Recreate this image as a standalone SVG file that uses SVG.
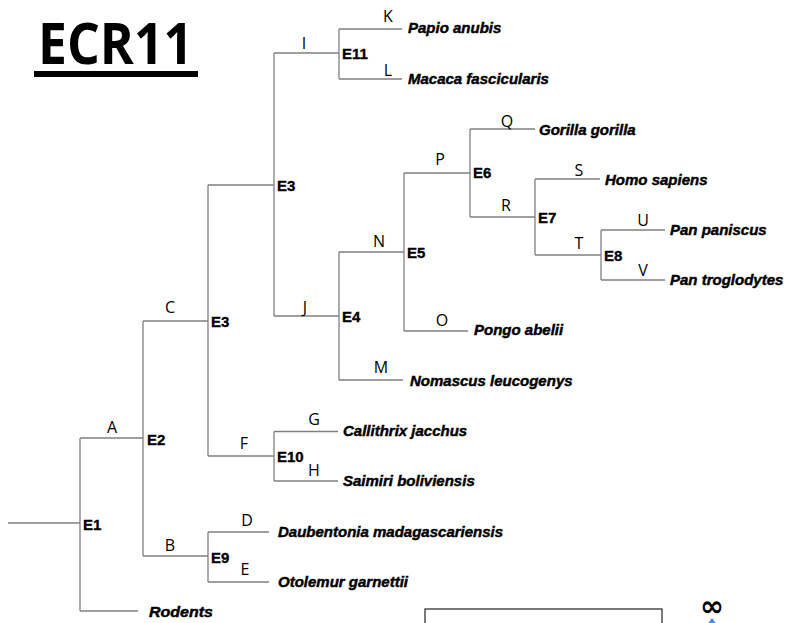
<svg xmlns="http://www.w3.org/2000/svg" width="786" height="623" viewBox="0 0 786 623">
<style>
.ln{fill:none;stroke:#808080;stroke-width:1.3}
.nd{font-family:"Liberation Sans",Arial,sans-serif;font-weight:bold;font-size:15px;fill:#000;stroke:#000;stroke-width:0.35}
.sp{font-family:"Liberation Sans",Arial,sans-serif;font-weight:bold;font-style:italic;font-size:15px;fill:#000;stroke:#000;stroke-width:0.45}
.br{font-family:"Open Sans","Liberation Sans",sans-serif;font-size:16px;fill:#000;text-anchor:middle}
</style>
<rect width="786" height="623" fill="#fff"/>
<g id="title">
<text x="38" y="64" font-family="Open Sans,Liberation Sans,sans-serif" font-weight="bold" font-size="57" textLength="155" lengthAdjust="spacingAndGlyphs">ECR11</text>
<rect x="34" y="71" width="164" height="6" fill="#000"/>
</g>
<g id="connectors" class="ln">
<path d="M8,523H80M80,438V611M80,438H143M80,611H138"/>
<path d="M143,321V556M143,321H208M143,556H208"/>
<path d="M208,532V582M208,532H269M208,582H269"/>
<path d="M208,185V456M208,185H274M208,456H274"/>
<path d="M274,431.5V481M274,431.5H338M274,481H338"/>
<path d="M274,53V316M274,53H339M274,316H339"/>
<path d="M339,29V79M339,29H402M339,79H402"/>
<path d="M339,252V380M339,252H404M339,380H403"/>
<path d="M404,173V331M404,173H470M404,331H468"/>
<path d="M470,129V217M470,129H535M470,217H535"/>
<path d="M535,179V255M535,179H600M535,255H601"/>
<path d="M601,230V280M601,230H665M601,280H665"/>
</g>
<g id="branch-labels" class="br">
<text x="112" y="433">A</text>
<text x="170" y="551">B</text>
<text x="170" y="313">C</text>
<text x="247" y="526">D</text>
<text x="245" y="575">E</text>
<text x="244" y="449">F</text>
<text x="314" y="425">G</text>
<text x="314" y="476">H</text>
<text x="304" y="49">I</text>
<text x="305" y="313">J</text>
<text x="388" y="22">K</text>
<text x="388" y="76">L</text>
<text x="381" y="373">M</text>
<text x="379" y="247">N</text>
<text x="442" y="326">O</text>
<text x="440" y="165">P</text>
<text x="507" y="127">Q</text>
<text x="506" y="211">R</text>
<text x="579" y="176">S</text>
<text x="579" y="249">T</text>
<text x="643" y="226">U</text>
<text x="643" y="276">V</text>
</g>
<g id="node-E1"><text class="nd" x="83" y="530">E1</text></g>
<g id="node-E2"><text class="nd" x="147" y="445">E2</text></g>
<g id="node-E3-lower"><text class="nd" x="211" y="327">E3</text></g>
<g id="node-E3-upper"><text class="nd" x="277" y="191">E3</text></g>
<g id="node-E4"><text class="nd" x="342" y="322">E4</text></g>
<g id="node-E5"><text class="nd" x="407" y="258">E5</text></g>
<g id="node-E6"><text class="nd" x="473" y="178">E6</text></g>
<g id="node-E7"><text class="nd" x="538" y="223">E7</text></g>
<g id="node-E8"><text class="nd" x="604" y="261">E8</text></g>
<g id="node-E9"><text class="nd" x="211" y="563">E9</text></g>
<g id="node-E10"><text class="nd" x="277" y="462">E10</text></g>
<g id="node-E11"><text class="nd" x="342" y="59">E11</text></g>
<g id="leaf-papio"><text class="sp" x="408" y="33">Papio anubis</text></g>
<g id="leaf-macaca"><text class="sp" x="408" y="84">Macaca fascicularis</text></g>
<g id="leaf-gorilla"><text class="sp" x="539" y="135">Gorilla gorilla</text></g>
<g id="leaf-homo"><text class="sp" x="605" y="185">Homo sapiens</text></g>
<g id="leaf-panpaniscus"><text class="sp" x="670" y="235">Pan paniscus</text></g>
<g id="leaf-pantroglodytes"><text class="sp" x="670" y="285">Pan troglodytes</text></g>
<g id="leaf-pongo"><text class="sp" x="474" y="335">Pongo abelii</text></g>
<g id="leaf-nomascus"><text class="sp" x="410" y="386">Nomascus leucogenys</text></g>
<g id="leaf-callithrix"><text class="sp" x="343" y="436">Callithrix jacchus</text></g>
<g id="leaf-saimiri"><text class="sp" x="343" y="486">Saimiri boliviensis</text></g>
<g id="leaf-daubentonia"><text class="sp" x="278" y="537">Daubentonia madagascariensis</text></g>
<g id="leaf-otolemur"><text class="sp" x="278" y="587">Otolemur garnettii</text></g>
<g id="leaf-rodents"><text class="sp" x="149" y="617" font-size="18" textLength="64" lengthAdjust="spacingAndGlyphs">Rodents</text></g>
<g id="box"><rect x="425" y="609" width="237" height="30" fill="none" stroke="#333" stroke-width="1.3"/></g>
<g id="infinity">
<text x="712" y="616" text-anchor="middle" font-family="DejaVu Sans,sans-serif" font-weight="bold" font-size="29">∞</text>
<path d="M712,618L715.5,623H708.5Z" fill="#4a86e8"/>
</g>
</svg>
